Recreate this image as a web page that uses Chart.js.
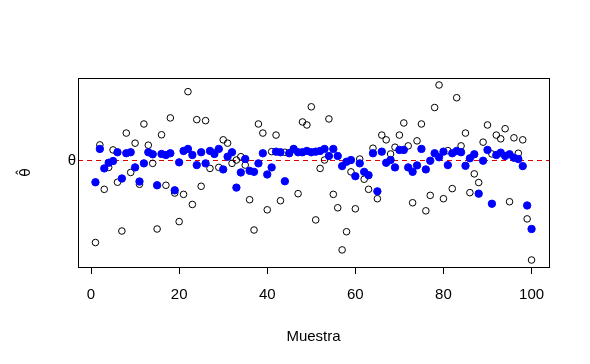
<!DOCTYPE html>
<html>
<head>
<meta charset="utf-8">
<title>Muestra</title>
<script src="https://cdn.jsdelivr.net/npm/chart.js@4"></script>
<style>
    html, body { margin: 0; padding: 0; background: #fff; }
    #wrap { width: 590px; height: 364px; }
</style>
</head>
<body>
<div id="wrap"><canvas id="plot" width="590" height="364"></canvas></div>
<script>
// Sample index 1..100
const samples = Array.from({ length: 100 }, (_, i) => i + 1);

// Open circles (estimator 1)
const openValues = [
    -8.07, 1.6, -2.8, -0.63, 1.1, -2.1, -6.93, 2.77, -1.13, 1.77,
    -2.3, 3.67, 1.57, -0.23, -6.73, 2.6, -2.4, 4.27, -3.17, -6.0,
    -3.3, 6.87, -4.3, 4.1, -2.5, 4.0, -0.73, 0.8, -0.63, 2.1,
    1.77, -0.23, 0.1, 0.43, -0.4, -3.83, -6.83, 3.67, 2.77, -4.83,
    0.93, 2.57, -3.93, 0.87, 0.8, 1.2, -3.23, 3.87, 3.57, 5.37,
    -5.83, -0.73, 0.1, 4.17, -3.3, -4.63, -8.8, -7.0, -1.07, -4.73,
    0.2, -1.8, -2.8, 1.27, -3.73, 2.57, 2.1, 0.7, 1.37, 2.57,
    3.77, 1.5, -4.13, 2.0, 3.67, -4.93, -3.4, 5.3, 7.53, -3.73,
    1.03, -2.73, 6.27, 1.5, 2.77, -3.13, -1.27, -2.13, 1.87, 3.57,
    0.7, 2.57, 2.2, 3.2, -4.03, 2.3, 0.77, 2.1, -5.73, -9.8
];

// Filled blue circles (estimator 2)
const blueValues = [
    -2.1, 1.2, -0.73, -0.17, 0.0, 0.87, -1.73, 0.77, 0.87, -0.63,
    -2.03, -0.23, 0.87, 0.67, -2.4, 0.7, 0.6, 0.77, -2.9, -0.13,
    1.0, 1.2, 0.6, -0.4, 0.87, -0.23, 1.0, 0.7, 1.2, -0.83,
    0.43, 0.87, -2.63, -1.13, 0.2, -0.97, -1.07, -0.23, 0.77, -1.33,
    -0.63, 0.93, 0.87, -2.0, 0.77, 1.2, 0.87, 0.87, 1.0, 0.87,
    0.93, 1.0, 1.2, 0.5, 1.2, 0.5, -0.5, -0.07, 0.1, -1.5,
    -0.23, -1.07, -1.4, 0.77, -3.0, 0.93, -0.17, 0.1, -0.63, 1.1,
    1.1, -0.63, -1.07, -0.43, 1.2, -0.83, 0.03, 0.77, 0.37, 0.93,
    -0.4, 0.77, 1.0, 0.87, -0.47, 0.27, 0.67, -3.23, 0.03, 1.1,
    -4.23, 0.6, 0.83, 0.5, 0.67, 0.33, 0.2, -0.5, -4.4, -6.73
];

const xTicks = [0, 20, 40, 60, 80, 100];
const thetaValue = 0;
const yTickLabel = 'θ';
const yTitle = 'θ̂';
const xTitle = 'Muestra';

const FONT = "'Liberation Sans', Arial, sans-serif";

// R-like axis ranges: data range extended 4% on each side
function paddedRange(values) {
    const lo = Math.min(...values), hi = Math.max(...values);
    const pad = (hi - lo) * 0.04;
    return { min: lo - pad, max: hi + pad };
}
const xRange = paddedRange(samples);
const yRange = paddedRange(openValues.concat(blueValues));

// Box around plot area + dashed reference line at theta
const boxPlugin = {
    id: 'rbox',
    beforeDatasetsDraw(chart) {
        const { ctx, chartArea: a, scales } = chart;
        const y = Math.round(scales.y.getPixelForValue(thetaValue)) - 0.5;
        ctx.save();
        ctx.strokeStyle = '#e00000';
        ctx.lineWidth = 1;
        ctx.setLineDash([5, 4]);
        ctx.beginPath();
        ctx.moveTo(a.left, y);
        ctx.lineTo(a.right, y);
        ctx.stroke();
        ctx.restore();
    },
    afterDraw(chart) {
        const { ctx, chartArea: a } = chart;
        ctx.save();
        ctx.strokeStyle = '#000';
        ctx.lineWidth = 1;
        ctx.strokeRect(Math.round(a.left) + 0.5, Math.round(a.top) + 0.5,
            Math.round(a.right - a.left), Math.round(a.bottom - a.top));
        ctx.restore();
    }
};

new Chart(document.getElementById('plot'), {
    type: 'scatter',
    data: {
        datasets: [{
            label: 'blue',
            data: samples.map((x, i) => ({ x: x, y: blueValues[i] })),
            pointStyle: 'circle',
            pointRadius: 3.7,
            backgroundColor: '#0000ff',
            borderColor: '#0000ff',
            borderWidth: 1
        }, {
            label: 'open',
            data: samples.map((x, i) => ({ x: x, y: openValues[i] })),
            pointStyle: 'circle',
            pointRadius: 3.3,
            backgroundColor: 'rgba(0,0,0,0)',
            borderColor: '#000',
            borderWidth: 1
        }]
    },
    options: {
        responsive: false,
        animation: false,
        events: [],
        layout: { padding: { top: 78, right: 41, left: 0, bottom: 0 } },
        plugins: {
            legend: { display: false },
            tooltip: { enabled: false }
        },
        scales: {
            x: {
                type: 'linear',
                min: xRange.min,
                max: xRange.max,
                afterBuildTicks: (scale) => { scale.ticks = xTicks.map(v => ({ value: v })); },
                afterFit: (scale) => { scale.height = 97; },
                border: { display: false },
                grid: { drawOnChartArea: false, drawTicks: true, tickLength: 7, color: '#000', tickColor: '#000' },
                ticks: { color: '#000', font: { family: FONT, size: 15 }, padding: 12, maxRotation: 0 },
                title: { display: true, text: xTitle, color: '#000', font: { family: FONT, size: 15 }, padding: { top: 0, bottom: 18 } }
            },
            y: {
                type: 'linear',
                min: yRange.min,
                max: yRange.max,
                afterBuildTicks: (scale) => { scale.ticks = [{ value: thetaValue }]; },
                afterFit: (scale) => { scale.width = 78; },
                border: { display: false },
                grid: { display: false, drawTicks: false },
                ticks: { color: '#000', font: { family: FONT, size: 15 }, padding: 2, callback: () => yTickLabel },
                title: { display: true, text: yTitle, color: '#000', font: { family: "'DejaVu Sans', sans-serif", size: 14 }, padding: { top: 18, bottom: 0 } }
            }
        }
    },
    plugins: [boxPlugin]
});
</script>
</body>
</html>
